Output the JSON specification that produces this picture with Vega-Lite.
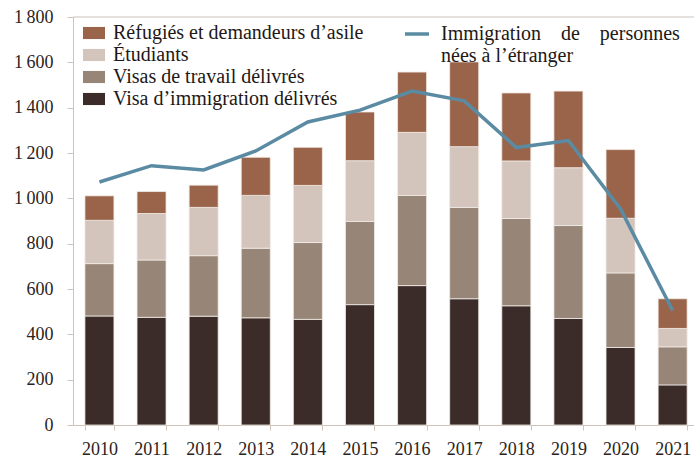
{
  "$schema": "https://vega.github.io/schema/vega-lite/v6.json",
  "width": 621,
  "height": 408,
  "autosize": {"type": "none"},
  "padding": {"left": 73, "top": 17, "right": 0, "bottom": 32},
  "background": "white",
  "config": {
    "view": {"stroke": null},
    "font": "Liberation Serif",
    "axis": {
      "domainColor": "#cfc3ba",
      "tickColor": "#cfc3ba",
      "labelColor": "#2b2220",
      "labelFont": "Liberation Serif",
      "labelFontSize": 18,
      "grid": false,
      "title": null
    },
    "legend": {
      "labelFont": "Liberation Serif",
      "labelFontSize": 20,
      "labelColor": "#1e1816",
      "labelLimit": 400,
      "padding": 0,
      "title": null
    }
  },
  "datasets": {
    "bars": [
      {"year": "2010", "cat": "Visa d’immigration délivrés", "value": 481},
      {"year": "2010", "cat": "Visas de travail délivrés", "value": 231},
      {"year": "2010", "cat": "Étudiants", "value": 191},
      {"year": "2010", "cat": "Réfugiés et demandeurs d’asile", "value": 108},
      {"year": "2011", "cat": "Visa d’immigration délivrés", "value": 475},
      {"year": "2011", "cat": "Visas de travail délivrés", "value": 253},
      {"year": "2011", "cat": "Étudiants", "value": 205},
      {"year": "2011", "cat": "Réfugiés et demandeurs d’asile", "value": 97},
      {"year": "2012", "cat": "Visa d’immigration délivrés", "value": 480},
      {"year": "2012", "cat": "Visas de travail délivrés", "value": 267},
      {"year": "2012", "cat": "Étudiants", "value": 213},
      {"year": "2012", "cat": "Réfugiés et demandeurs d’asile", "value": 98},
      {"year": "2013", "cat": "Visa d’immigration délivrés", "value": 473},
      {"year": "2013", "cat": "Visas de travail délivrés", "value": 307},
      {"year": "2013", "cat": "Étudiants", "value": 233},
      {"year": "2013", "cat": "Réfugiés et demandeurs d’asile", "value": 168},
      {"year": "2014", "cat": "Visa d’immigration délivrés", "value": 466},
      {"year": "2014", "cat": "Visas de travail délivrés", "value": 339},
      {"year": "2014", "cat": "Étudiants", "value": 252},
      {"year": "2014", "cat": "Réfugiés et demandeurs d’asile", "value": 168},
      {"year": "2015", "cat": "Visa d’immigration délivrés", "value": 531},
      {"year": "2015", "cat": "Visas de travail délivrés", "value": 367},
      {"year": "2015", "cat": "Étudiants", "value": 268},
      {"year": "2015", "cat": "Réfugiés et demandeurs d’asile", "value": 215},
      {"year": "2016", "cat": "Visa d’immigration délivrés", "value": 615},
      {"year": "2016", "cat": "Visas de travail délivrés", "value": 398},
      {"year": "2016", "cat": "Étudiants", "value": 278},
      {"year": "2016", "cat": "Réfugiés et demandeurs d’asile", "value": 266},
      {"year": "2017", "cat": "Visa d’immigration délivrés", "value": 557},
      {"year": "2017", "cat": "Visas de travail délivrés", "value": 403},
      {"year": "2017", "cat": "Étudiants", "value": 268},
      {"year": "2017", "cat": "Réfugiés et demandeurs d’asile", "value": 374},
      {"year": "2018", "cat": "Visa d’immigration délivrés", "value": 526},
      {"year": "2018", "cat": "Visas de travail délivrés", "value": 385},
      {"year": "2018", "cat": "Étudiants", "value": 254},
      {"year": "2018", "cat": "Réfugiés et demandeurs d’asile", "value": 300},
      {"year": "2019", "cat": "Visa d’immigration délivrés", "value": 470},
      {"year": "2019", "cat": "Visas de travail délivrés", "value": 410},
      {"year": "2019", "cat": "Étudiants", "value": 255},
      {"year": "2019", "cat": "Réfugiés et demandeurs d’asile", "value": 338},
      {"year": "2020", "cat": "Visa d’immigration délivrés", "value": 342},
      {"year": "2020", "cat": "Visas de travail délivrés", "value": 329},
      {"year": "2020", "cat": "Étudiants", "value": 241},
      {"year": "2020", "cat": "Réfugiés et demandeurs d’asile", "value": 303},
      {"year": "2021", "cat": "Visa d’immigration délivrés", "value": 177},
      {"year": "2021", "cat": "Visas de travail délivrés", "value": 168},
      {"year": "2021", "cat": "Étudiants", "value": 81},
      {"year": "2021", "cat": "Réfugiés et demandeurs d’asile", "value": 131}
    ],
    "line": [
      {"year": "2010", "total": 1072},
      {"year": "2011", "total": 1144},
      {"year": "2012", "total": 1125},
      {"year": "2013", "total": 1209},
      {"year": "2014", "total": 1337},
      {"year": "2015", "total": 1389},
      {"year": "2016", "total": 1473},
      {"year": "2017", "total": 1430},
      {"year": "2018", "total": 1224},
      {"year": "2019", "total": 1255},
      {"year": "2020", "total": 953},
      {"year": "2021", "total": 505}
    ]
  },
  "layer": [
    {
      "data": {"name": "bars"},
      "transform": [
        {"calculate": "indexof(['Visa d’immigration délivrés','Visas de travail délivrés','Étudiants','Réfugiés et demandeurs d’asile'], datum.cat)", "as": "k"}
      ],
      "mark": {"type": "bar", "stroke": "#f1ebe6", "strokeWidth": 0.8},
      "encoding": {
        "x": {
          "field": "year", "type": "ordinal",
          "scale": {"paddingInner": 0.443, "paddingOuter": 0.18, "align": 0.635},
          "axis": {"tickBand": "extent", "tickSize": 5, "labelAngle": 0, "labelPadding": 10, "labelFont": "Liberation Serif", "labelFontSize": 18}
        },
        "y": {
          "field": "value", "type": "quantitative", "stack": "zero",
          "scale": {"domain": [0, 1800], "nice": false},
          "axis": {
            "values": [0, 200, 400, 600, 800, 1000, 1200, 1400, 1600, 1800],
            "labelExpr": "replace(format(datum.value, ','), ',', '\u2009')",
            "tickSize": 6,
            "labelPadding": 14,
            "labelFont": "Liberation Serif",
            "labelFontSize": 18
          }
        },
        "color": {
          "field": "cat", "type": "nominal",
          "scale": {
            "domain": ["Réfugiés et demandeurs d’asile", "Étudiants", "Visas de travail délivrés", "Visa d’immigration délivrés"],
            "range": ["#9a644a", "#d3c4bc", "#978678", "#3b2c29"]
          },
          "legend": {
            "orient": "none",
            "legendX": 10,
            "legendY": 5,
            "symbolType": "M-1,-0.55H1V0.55H-1Z",
            "symbolSize": 484,
            "symbolStrokeWidth": 0,
            "labelOffset": 8,
            "rowPadding": 1
          }
        },
        "order": {"field": "k", "type": "quantitative"}
      }
    },
    {
      "data": {"name": "line"},
      "mark": {"type": "line", "strokeWidth": 3.5},
      "encoding": {
        "x": {"field": "year", "type": "ordinal"},
        "y": {"field": "total", "type": "quantitative"},
        "stroke": {
          "datum": "Immigration de personnes nées à l’étranger",
          "scale": {"range": ["#5a8ba3"]},
          "legend": {
            "orient": "none",
            "legendX": 330,
            "legendY": 3,
            "symbolType": "stroke",
            "symbolSize": 576,
            "symbolStrokeWidth": 3.5,
            "labelOffset": 10,
            "labelExpr": "['Immigration\u00a0\u00a0\u00a0\u00a0de\u00a0\u00a0\u00a0\u00a0personnes', 'nées à l’étranger']"
          }
        }
      }
    },
    {
      "data": {"values": [{"v": 1800}]},
      "mark": {"type": "rule", "color": "#cfc3ba", "strokeWidth": 1},
      "encoding": {"y": {"field": "v", "type": "quantitative"}}
    }
  ]
}
